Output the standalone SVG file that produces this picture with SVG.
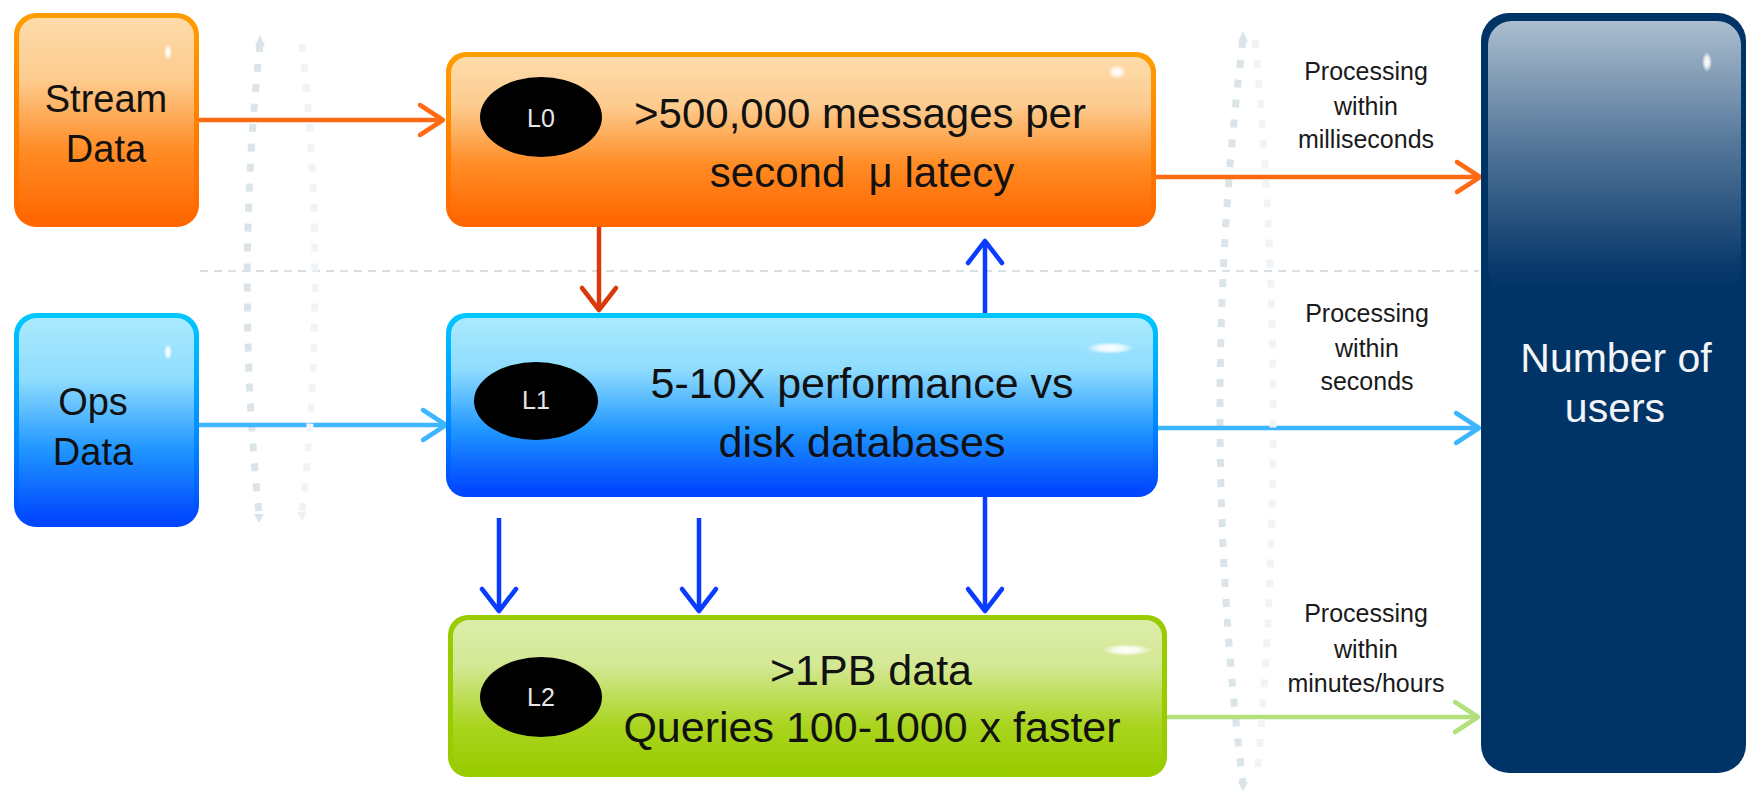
<svg xmlns="http://www.w3.org/2000/svg" width="1746" height="797" viewBox="0 0 1746 797">
<style>
.t{font-family:"Liberation Sans",Arial,sans-serif;fill:#111;text-anchor:middle}
.big{font-size:43px}
.side{font-size:38px}
.lab{font-size:25px;fill:#1a1a1a}
.lv{font-size:25px;fill:#e6e6e6}
.usr{font-size:41px;fill:#f2f4f7}
.pre{white-space:pre}
.dotA{fill:none;stroke:#dbe4e9;stroke-width:7;stroke-dasharray:8 12}
.dotB{fill:none;stroke:#f1f4f6;stroke-width:7;stroke-dasharray:8 12}
.dash{fill:none;stroke:#d6e0e6;stroke-width:2;stroke-dasharray:8 6}
.c{fill:none;stroke-width:4.5}
</style>
<defs>
<linearGradient id="orB" x1="0" y1="0" x2="0" y2="1"><stop offset="0" stop-color="#ff9e00"/><stop offset="1" stop-color="#ff6600"/></linearGradient>
<linearGradient id="orF" x1="0" y1="0" x2="0" y2="1"><stop offset="0" stop-color="#fedcab"/><stop offset="0.3" stop-color="#fdcb8e"/><stop offset="0.65" stop-color="#ff8c25"/><stop offset="1" stop-color="#ff6600"/></linearGradient>
<linearGradient id="blB" x1="0" y1="0" x2="0" y2="1"><stop offset="0" stop-color="#00c8ff"/><stop offset="0.6" stop-color="#0088ff"/><stop offset="1" stop-color="#0044ff"/></linearGradient>
<linearGradient id="blF" x1="0" y1="0" x2="0" y2="1"><stop offset="0" stop-color="#aaeafd"/><stop offset="0.3" stop-color="#8edcfe"/><stop offset="0.65" stop-color="#1f95ff"/><stop offset="1" stop-color="#0044ff"/></linearGradient>
<linearGradient id="grF" x1="0" y1="0" x2="0" y2="1"><stop offset="0" stop-color="#dcedab"/><stop offset="0.3" stop-color="#d3e894"/><stop offset="0.7" stop-color="#a9d41e"/><stop offset="1" stop-color="#99cc00"/></linearGradient>
<linearGradient id="nvG" x1="0" y1="0" x2="0" y2="1"><stop offset="0" stop-color="#abbecf"/><stop offset="0.45" stop-color="#55779a"/><stop offset="0.9" stop-color="#0a3a6b"/><stop offset="1" stop-color="#003366"/></linearGradient>
<radialGradient id="hi"><stop offset="0" stop-color="#fff" stop-opacity="1"/><stop offset="0.5" stop-color="#fff" stop-opacity="0.8"/><stop offset="1" stop-color="#fff" stop-opacity="0"/></radialGradient>
<marker id="mOr" markerUnits="userSpaceOnUse" markerWidth="60" markerHeight="60" viewBox="0 0 60 60" refX="30" refY="30" orient="auto"><path d="M7 15 L30 30 L7 45" fill="none" stroke="#ff6a13" stroke-width="4.5" stroke-linecap="round" stroke-linejoin="round"/></marker>
<marker id="mLb" markerUnits="userSpaceOnUse" markerWidth="60" markerHeight="60" viewBox="0 0 60 60" refX="30" refY="30" orient="auto"><path d="M7 15 L30 30 L7 45" fill="none" stroke="#3db5ff" stroke-width="4.5" stroke-linecap="round" stroke-linejoin="round"/></marker>
<marker id="mGr" markerUnits="userSpaceOnUse" markerWidth="60" markerHeight="60" viewBox="0 0 60 60" refX="30" refY="30" orient="auto"><path d="M7 15 L30 30 L7 45" fill="none" stroke="#b3e07a" stroke-width="4.5" stroke-linecap="round" stroke-linejoin="round"/></marker>
<marker id="mRd" markerUnits="userSpaceOnUse" markerWidth="60" markerHeight="60" viewBox="0 0 60 60" refX="30" refY="30" orient="auto"><path d="M8 13 L30 30 L8 47" fill="none" stroke="#d93a0c" stroke-width="4.5" stroke-linecap="round" stroke-linejoin="round"/></marker>
<marker id="mBl" markerUnits="userSpaceOnUse" markerWidth="60" markerHeight="60" viewBox="0 0 60 60" refX="30" refY="30" orient="auto"><path d="M8 13 L30 30 L8 47" fill="none" stroke="#0a3cff" stroke-width="4.5" stroke-linecap="round" stroke-linejoin="round"/></marker>
</defs>
<rect width="1746" height="797" fill="#fff"/>
<g id="guides">
<path class="dotA" d="M260 44 Q235 280 259 514"/>
<path class="dotA" d="M1243 40 Q1197 410 1243 784"/>
<polygon points="255,46 260,35 265,46" fill="#dbe4e9"/>
<polygon points="254,514 264,514 259,523" fill="#dbe4e9"/>
<polygon points="1238,42 1243,31 1248,42" fill="#dbe4e9"/>
<polygon points="1238,782 1248,782 1243,791" fill="#dbe4e9"/>
<path class="dash" d="M200 271 L1479 271"/>
</g>
<g id="connectors">
<path class="c" stroke="#ff6a13" d="M199 120 L443 120" marker-end="url(#mOr)"/>
<path class="c" stroke="#3db5ff" d="M199 425 L446 425" marker-end="url(#mLb)"/>
<path class="c" stroke="#ff6a13" d="M1156 177 L1480 177" marker-end="url(#mOr)"/>
<path class="c" stroke="#3db5ff" d="M1158 428 L1479 428" marker-end="url(#mLb)"/>
<path class="c" stroke="#b3e07a" d="M1167 717 L1478 717" marker-end="url(#mGr)"/>
<path class="c" stroke="#d93a0c" d="M599 226 L599 310" marker-end="url(#mRd)"/>
<path class="c" stroke="#0a3cff" d="M985 313 L985 241" marker-end="url(#mBl)"/>
<path class="c" stroke="#0a3cff" d="M499 518 L499 611" marker-end="url(#mBl)"/>
<path class="c" stroke="#0a3cff" d="M699 518 L699 611" marker-end="url(#mBl)"/>
<path class="c" stroke="#0a3cff" d="M985 497 L985 611" marker-end="url(#mBl)"/>
</g>
<g id="guides-light">
<path class="dotB" d="M302 44 Q328 280 302 512"/>
<path class="dotB" d="M1255 40 Q1290 405 1257 778"/>
<polygon points="297,512 307,512 302,521" fill="#eef2f4"/>
</g>
<g id="stream-data">
<rect x="14" y="13" width="185" height="214" rx="22" fill="url(#orB)"/>
<rect x="19" y="18" width="175" height="204" rx="18" fill="url(#orF)"/>
<ellipse cx="168" cy="52" rx="4" ry="8" fill="url(#hi)"/>
<text class="t side" x="106" y="112">Stream</text>
<text class="t side" x="106" y="162">Data</text>
</g>
<g id="ops-data">
<rect x="14" y="313" width="185" height="214" rx="22" fill="url(#blB)"/>
<rect x="19" y="318" width="175" height="204" rx="18" fill="url(#blF)"/>
<ellipse cx="168" cy="352" rx="4" ry="8" fill="url(#hi)"/>
<text class="t side" x="93" y="415">Ops</text>
<text class="t side" x="93" y="465">Data</text>
</g>
<g id="l0">
<rect x="446" y="52" width="710" height="175" rx="20" fill="url(#orB)"/>
<rect x="451" y="57" width="700" height="165" rx="16" fill="url(#orF)"/>
<ellipse cx="1117" cy="72" rx="9" ry="7" fill="url(#hi)"/>
<ellipse cx="541" cy="117" rx="61" ry="40" fill="#000"/>
<text class="t lv" x="541" y="127">L0</text>
<text class="t big" x="860" y="128" style="font-size:42px">&gt;500,000 messages per</text>
<text class="t big pre" x="862" y="187" style="font-size:42px">second  μ latecy</text>
</g>
<g id="l1">
<rect x="446" y="313" width="712" height="184" rx="20" fill="url(#blB)"/>
<rect x="451" y="318" width="702" height="174" rx="16" fill="url(#blF)"/>
<ellipse cx="1110" cy="348" rx="24" ry="6" fill="url(#hi)"/>
<ellipse cx="536" cy="401" rx="62" ry="39" fill="#000"/>
<text class="t lv" x="536" y="409">L1</text>
<text class="t big" x="862" y="398">5-10X performance vs</text>
<text class="t big" x="862" y="457">disk databases</text>
</g>
<g id="l2">
<rect x="448" y="615" width="719" height="162" rx="20" fill="#99cc00"/>
<rect x="453" y="620" width="709" height="152" rx="16" fill="url(#grF)"/>
<ellipse cx="1127" cy="650" rx="25" ry="6" fill="url(#hi)"/>
<ellipse cx="541" cy="697" rx="61" ry="40" fill="#000"/>
<text class="t lv" x="541" y="706">L2</text>
<text class="t big" x="871" y="685">&gt;1PB data</text>
<text class="t big" x="872" y="742">Queries 100-1000 x faster</text>
</g>
<g id="users">
<rect x="1481" y="13" width="265" height="760" rx="28" fill="#003366"/>
<rect x="1488" y="21" width="253" height="272" rx="24" fill="url(#nvG)"/>
<ellipse cx="1707" cy="62" rx="5" ry="10" fill="url(#hi)"/>
<text class="t usr" x="1616" y="372">Number of</text>
<text class="t usr" x="1615" y="422">users</text>
</g>
<g id="labels">
<text class="t lab" x="1366" y="80">Processing</text>
<text class="t lab" x="1366" y="115">within</text>
<text class="t lab" x="1366" y="148">milliseconds</text>
<text class="t lab" x="1367" y="322">Processing</text>
<text class="t lab" x="1367" y="357">within</text>
<text class="t lab" x="1367" y="390">seconds</text>
<text class="t lab" x="1366" y="622">Processing</text>
<text class="t lab" x="1366" y="658">within</text>
<text class="t lab" x="1366" y="692">minutes/hours</text>
</g>
</svg>
